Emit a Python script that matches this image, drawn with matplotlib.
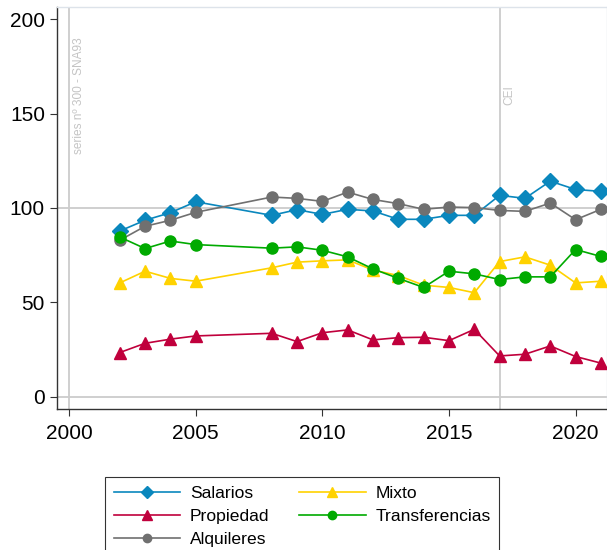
import matplotlib
matplotlib.use("Agg")
import matplotlib.pyplot as plt

plt.rcParams['font.family'] = ['Liberation Sans', 'DejaVu Sans']

# ------------------------------------------------------
# Data
# ------------------------------------------------------
years = [2002, 2003, 2004, 2005, 2008, 2009, 2010, 2011, 2012,
         2013, 2014, 2015, 2016, 2017, 2018, 2019, 2020, 2021]

salarios = [87.8, 93.5, 97.5, 103.3, 96.1, 99.1, 96.6, 99.3, 98.4,
            94.0, 94.0, 96.1, 96.1, 106.7, 105.1, 114.2, 109.8, 108.8]
propiedad = [23.4, 28.3, 30.5, 32.2, 33.6, 29.2, 33.9, 35.4, 30.1,
             31.3, 31.5, 29.7, 35.7, 21.6, 22.5, 26.9, 21.3, 17.8]
alquileres = [82.9, 90.3, 93.5, 97.7, 105.8, 105.1, 103.5, 108.4, 104.5,
              102.3, 99.3, 100.5, 100.2, 98.7, 98.2, 102.6, 93.8, 99.3]
mixto = [60.3, 66.5, 62.7, 61.2, 68.3, 71.3, 72.0, 72.5, 67.1,
         64.2, 59.1, 57.9, 55.1, 71.6, 74.1, 69.7, 60.3, 61.2]
transferencias = [84.6, 78.5, 82.5, 80.6, 78.7, 79.4, 77.6, 74.1, 67.7,
                  62.7, 57.9, 66.5, 65.1, 62.1, 63.5, 63.5, 78.0, 74.3]

x_ticks = [2000, 2005, 2010, 2015, 2020]
y_ticks = [0, 50, 100, 150, 200]
y_lines = [0, 100]
x_lines = [2000, 2017]
x_line_labels = ['series nº 300 - SNA93', 'CEI']
x_label_tops = [190.6, 165.0]

# ------------------------------------------------------
# Figure
# ------------------------------------------------------
fig = plt.figure(figsize=(6.07, 5.5), dpi=100)
ax = fig.add_axes([0.0934, 0.2564, 0.9066, 0.7309])

light = '#cccccc'
for yl in y_lines:
    ax.axhline(yl, color=light, lw=1.3, zorder=1)
for xl, lab, top in zip(x_lines, x_line_labels, x_label_tops):
    ax.axvline(xl, color=light, lw=1.3, zorder=1)
    ax.text(xl + 0.16, top, lab, rotation=90, ha='left', va='top',
            color='#c4c4c4', fontsize=8.6)

lw = 1.2
ax.plot(years, salarios, color='#0a87bd', marker='D', ms=8, lw=lw,
        label='Salarios', zorder=3)
ax.plot(years, propiedad, color='#c0003c', marker='^', ms=9, lw=lw,
        label='Propiedad', zorder=3)
ax.plot(years, alquileres, color='#707070', marker='o', ms=8, lw=lw,
        label='Alquileres', zorder=3)
ax.plot(years, mixto, color='#ffd200', marker='^', ms=9, lw=lw,
        label='Mixto', zorder=3)
ax.plot(years, transferencias, color='#00aa00', marker='o', ms=8, lw=lw,
        label='Transferencias', zorder=3)

ax.set_xlim(1999.51, 2021.24)
ax.set_ylim(-6.5, 206.5)
ax.set_xticks(x_ticks)
ax.set_yticks(y_ticks)
ax.tick_params(labelsize=15, length=5, width=0.8, color='#333333')
ax.tick_params(axis='x', pad=6)

for s in ['left', 'bottom']:
    ax.spines[s].set_color('#333333')
    ax.spines[s].set_linewidth(1.0)
for s in ['top', 'right']:
    ax.spines[s].set_color('#dde3ea')
    ax.spines[s].set_linewidth(1.0)

leg = fig.legend(loc='upper left', bbox_to_anchor=(105 / 607, 1 - 477 / 550),
                 ncol=2, fontsize=12.6, frameon=True, fancybox=False,
                 edgecolor='black', handlelength=3.8, handletextpad=0.55,
                 columnspacing=1.7, labelspacing=0.45, borderpad=0.5,
                 borderaxespad=0, markerscale=0.75)
leg.get_frame().set_linewidth(0.8)

fig.savefig('out.png', dpi=100)
